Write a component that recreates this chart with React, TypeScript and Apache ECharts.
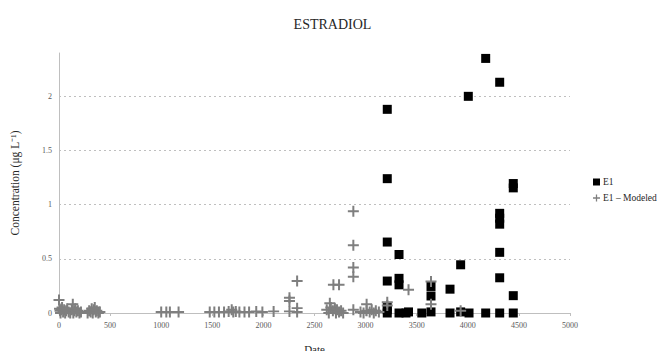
import React, { useEffect, useRef } from "react";
import * as echarts from "echarts";

const titleText = "ESTRADIOL";
const xAxisName = "Date";
const yAxisName = "Concentration (μg L⁻¹)";
const seriesNames = ["E1", "E1 – Modeled"];
const xTicks = { min: 0, max: 5000, interval: 500 };
const yTicks = { min: 0, max: 2.4, interval: 0.5 };

// [date, concentration]
const e1Measured: [number, number][] = [
  [3212, 1.88], [3212, 1.24], [3212, 0.655], [3212, 0.295], [3212, 0.06], [3212, 0.03], [3212, 0.0],
  [3327, 0.54], [3327, 0.32], [3327, 0.26], [3327, 0.0],
  [3395, 0.0], [3420, 0.01],
  [3550, 0.0],
  [3640, 0.245], [3640, 0.157], [3640, 0.01],
  [3826, 0.22], [3826, 0.0],
  [3930, 0.445], [3930, 0.01],
  [4005, 2.0], [4012, 0.0],
  [4175, 2.35], [4175, 0.0],
  [4312, 2.13], [4312, 0.92], [4312, 0.875], [4312, 0.82], [4312, 0.56], [4312, 0.325], [4312, 0.0],
  [4445, 1.195], [4445, 1.155], [4445, 0.16], [4445, 0.0],
];

const e1Modeled: [number, number][] = [
  [0, 0.12], [5, 0.04], [10, 0.02], [15, 0.0], [20, 0.03], [30, 0.05], [40, 0.01], [50, 0.03],
  [60, 0.0], [70, 0.02], [80, 0.04], [95, 0.01], [110, 0.0],
  [125, 0.03], [135, 0.08], [140, 0.0], [150, 0.02], [160, 0.04], [170, 0.01], [185, 0.02], [200, 0.0], [215, 0.01],
  [280, 0.0], [295, 0.02], [310, 0.01], [320, 0.04], [330, 0.0], [340, 0.03], [350, 0.05], [360, 0.01],
  [370, 0.02], [385, 0.0], [400, 0.01],
  [1000, 0.01], [1050, 0.01], [1085, 0.01], [1170, 0.01],
  [1475, 0.01], [1520, 0.01], [1565, 0.01], [1615, 0.01], [1660, 0.015], [1690, 0.03], [1705, 0.01],
  [1730, 0.015], [1765, 0.01], [1815, 0.01], [1860, 0.01], [1930, 0.015], [1990, 0.01], [2100, 0.015],
  [2255, 0.14], [2255, 0.11], [2255, 0.015], [2330, 0.295], [2330, 0.045], [2330, 0.01],
  [2650, 0.09], [2685, 0.26], [2740, 0.26], [2620, 0.03], [2640, 0.0], [2660, 0.05], [2680, 0.02],
  [2700, 0.04], [2710, 0.0], [2720, 0.03], [2740, 0.01], [2760, 0.02], [2780, 0.0],
  [2880, 0.94], [2880, 0.625], [2880, 0.42], [2880, 0.335], [2880, 0.03],
  [2950, 0.01], [2980, 0.0], [3010, 0.08], [3010, 0.02], [3040, 0.01], [3060, 0.03], [3080, 0.0],
  [3100, 0.02], [3130, 0.01],
  [3212, 0.1], [3212, 0.07], [3420, 0.215], [3640, 0.29], [3640, 0.08], [3930, 0.02],
];

const plusPath = "path://M4.5,0h2v4.5h4.5v2h-4.5v4.5h-2v-4.5h-4.5v-2h4.5z";
const serif = "'Liberation Serif', 'Times New Roman', serif";

export default function App() {
  const ref = useRef<HTMLDivElement>(null);
  useEffect(() => {
    if (!ref.current) return;
    const chart = echarts.init(ref.current, undefined, { renderer: "svg" });
    chart.setOption({
      animation: false,
      backgroundColor: "#ffffff",
      textStyle: { fontFamily: serif, color: "#262626" },
      title: {
        text: titleText,
        left: "center",
        top: 12,
        textStyle: { fontFamily: serif, fontSize: 14, fontWeight: "normal", color: "#262626" },
      },
      legend: {
        orient: "vertical",
        left: 593,
        top: 177,
        itemWidth: 7,
        itemHeight: 7,
        itemGap: 6,
        padding: 0,
        textStyle: { fontFamily: serif, fontSize: 9.5, color: "#262626", overflow: "none", padding: [0, 0, 0, -2] },
        data: [
          { name: seriesNames[0], icon: "rect" },
          { name: seriesNames[1], icon: plusPath },
        ],
      },
      grid: { left: 59, right: 95, top: 53, bottom: 34 },
      xAxis: {
        type: "value",
        min: xTicks.min,
        max: xTicks.max,
        interval: xTicks.interval,
        name: xAxisName,
        nameLocation: "middle",
        nameGap: 30,
        nameTextStyle: { fontFamily: serif, fontSize: 11, color: "#262626" },
        axisLine: { show: true, onZero: false, lineStyle: { color: "#bfbfbf", width: 1 } },
        axisTick: { show: true, length: 3, lineStyle: { color: "#bfbfbf" } },
        axisLabel: {
          fontFamily: serif,
          fontSize: 8,
          color: "#595959",
          margin: 8,
          formatter: (v: number) => String(v),
        },
        splitLine: { show: false },
      },
      yAxis: {
        type: "value",
        min: yTicks.min,
        max: yTicks.max,
        interval: yTicks.interval,
        name: yAxisName,
        nameLocation: "middle",
        nameGap: 38,
        nameTextStyle: { fontFamily: serif, fontSize: 11.5, color: "#262626" },
        axisLine: { show: true, lineStyle: { color: "#bfbfbf", width: 1 } },
        axisTick: { show: false },
        axisLabel: {
          fontFamily: serif,
          fontSize: 8,
          color: "#595959",
          margin: 7,
          showMaxLabel: false,
          formatter: (v: number) => String(v),
        },
        splitLine: {
          show: true,
          showMinLine: false,
          showMaxLine: false,
          lineStyle: { color: "#bfbfbf", type: [2, 3], width: 1 },
        },
      },
      series: [
        {
          name: seriesNames[0],
          type: "scatter",
          data: e1Measured,
          symbol: "rect",
          symbolSize: 9,
          itemStyle: { color: "#000000", opacity: 1 },
        },
        {
          name: seriesNames[1],
          type: "scatter",
          data: e1Modeled,
          symbol: plusPath,
          symbolSize: 11,
          itemStyle: { color: "#7f7f7f", opacity: 1 },
        },
      ],
    });
    return () => chart.dispose();
  }, []);
  return <div ref={ref} style={{ width: 665, height: 359, margin: -8 }} />;
}
